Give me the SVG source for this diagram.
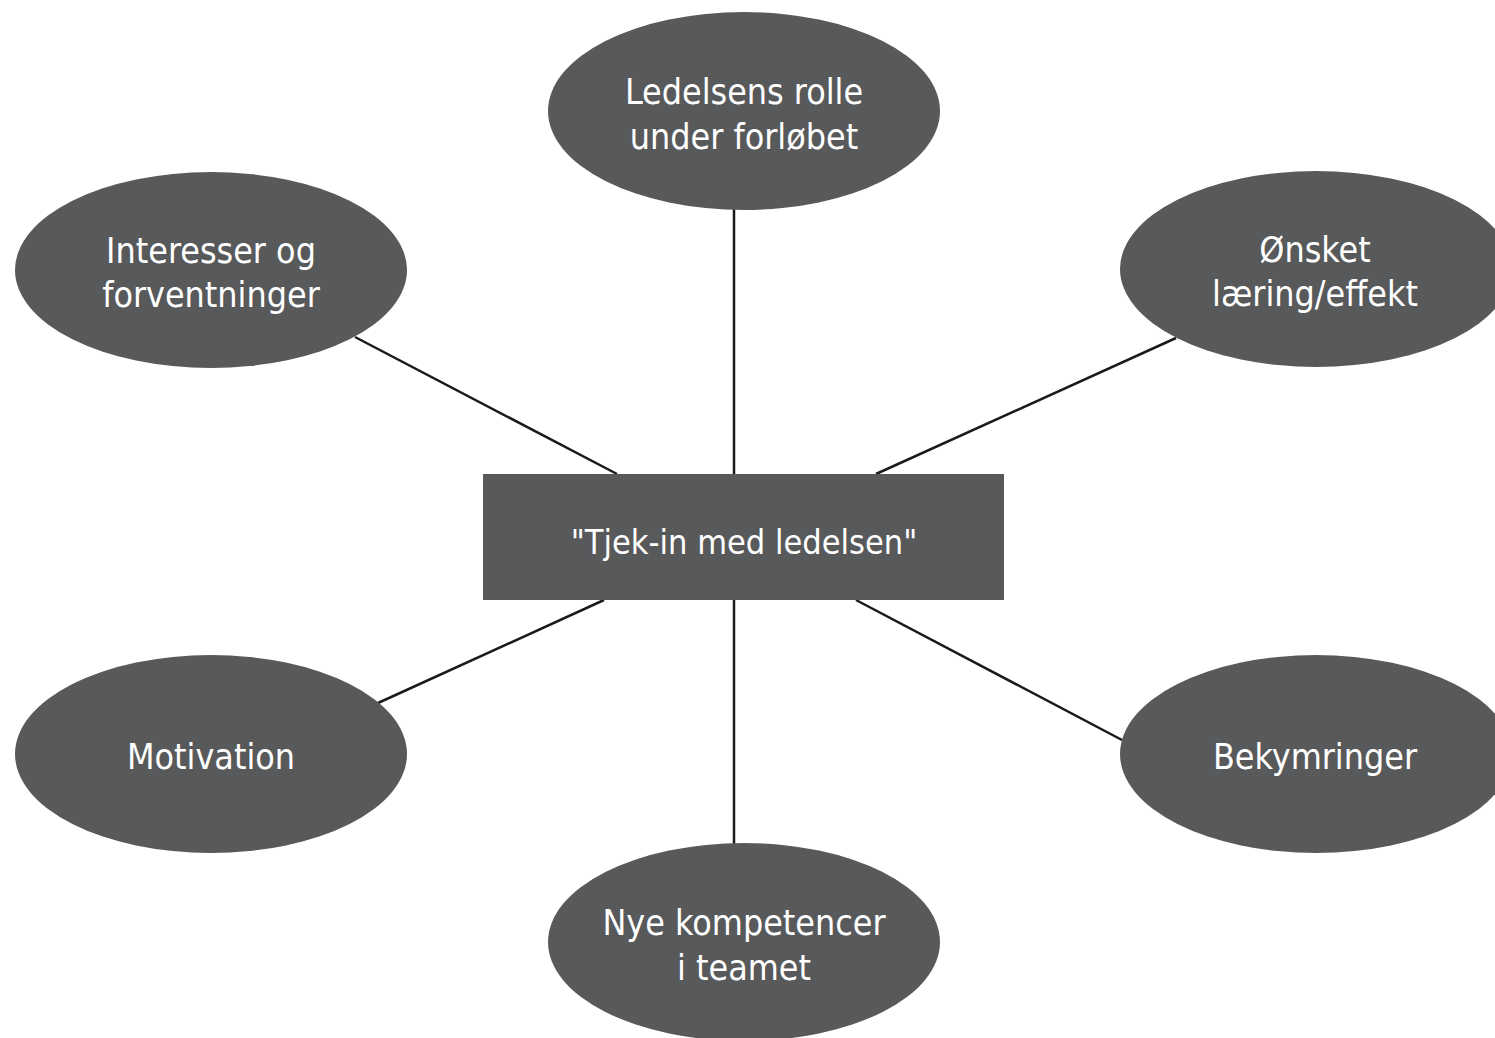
<svg xmlns="http://www.w3.org/2000/svg" width="1495" height="1038" viewBox="0 0 1495 1038">
<style>
.node{fill:#58595b}
.lbl{fill:#ffffff;font-family:"Liberation Sans Narrow","DejaVu Sans Condensed","Liberation Sans",sans-serif;font-size:35.5px;text-anchor:middle}
.conn{stroke:#1a1a1a;stroke-width:2.5;fill:none}
</style>
<rect width="1495" height="1038" fill="#ffffff"/>
<g id="connectors">
<line class="conn" x1="734" y1="205" x2="734" y2="474"/>
<line class="conn" x1="734" y1="600" x2="734" y2="848"/>
<line class="conn" x1="355" y1="337" x2="617" y2="474"/>
<line class="conn" x1="1176" y1="338" x2="876" y2="474"/>
<line class="conn" x1="604" y1="600" x2="378" y2="703"/>
<line class="conn" x1="856" y1="600" x2="1122" y2="740"/>
</g>
<g id="node-top">
<ellipse class="node" cx="744" cy="111" rx="196" ry="99"/>
<text class="lbl" x="744" y="104">Ledelsens rolle</text>
<text class="lbl" x="744" y="149">under forløbet</text>
</g>
<g id="node-upper-left">
<ellipse class="node" cx="211" cy="270" rx="196" ry="98"/>
<text class="lbl" x="211" y="263">Interesser og</text>
<text class="lbl" x="211" y="307">forventninger</text>
</g>
<g id="node-upper-right">
<ellipse class="node" cx="1316" cy="269" rx="196" ry="98"/>
<text class="lbl" x="1315" y="262">Ønsket</text>
<text class="lbl" x="1315" y="306">læring/effekt</text>
</g>
<g id="node-center">
<rect class="node" x="483" y="474" width="521" height="126"/>
<text class="lbl" x="744" y="554" style="font-size:34px">"Tjek-in med ledelsen"</text>
</g>
<g id="node-lower-left">
<ellipse class="node" cx="211" cy="754" rx="196" ry="99"/>
<text class="lbl" x="211" y="769">Motivation</text>
</g>
<g id="node-lower-right">
<ellipse class="node" cx="1316" cy="754" rx="196" ry="99"/>
<text class="lbl" x="1315" y="769">Bekymringer</text>
</g>
<g id="node-bottom">
<ellipse class="node" cx="744" cy="942" rx="196" ry="99"/>
<text class="lbl" x="744" y="935">Nye kompetencer</text>
<text class="lbl" x="744" y="980">i teamet</text>
</g>
</svg>
